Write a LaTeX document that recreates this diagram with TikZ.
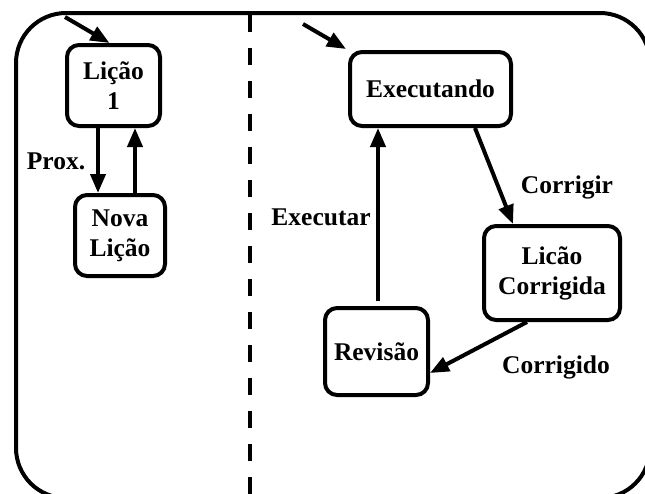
\documentclass[tikz,border=0pt]{standalone}
\usepackage{fontspec}
\setmainfont{Liberation Serif}
\usetikzlibrary{arrows.meta}
\tikzset{
  state/.style={draw, line width=4pt, rounded corners=12pt, align=center,
    inner sep=0pt, font=\fontsize{25.5}{30}\selectfont\bfseries},
  lbl/.style={inner sep=0pt, font=\fontsize{25.5}{30}\selectfont\bfseries},
  arr/.style={line width=4pt, -{Triangle[length=19pt,width=15pt]}},
}
\begin{document}
\begin{tikzpicture}[x=1pt,y=-1pt]
\useasboundingbox (0,0) rectangle (645,493);
% outer frame and separator
\draw[line width=4pt, rounded corners=50pt] (16,13) rectangle (650,498);
\draw[line width=4pt, dash pattern=on 17pt off 16pt] (250,15) -- (250,495);

% left part
\node[state, minimum width=93pt, minimum height=81pt] (lic1) at (113.5,85.5) {Lição\\1};
\node[state, minimum width=90pt, minimum height=81pt] (nova) at (120,235.5) {Nova\\Lição};
\coordinate (s1) at (65,17);
\draw[arr] (s1) -- ([xshift=-4pt]lic1.north);
\coordinate (d1) at ([xshift=-15.5pt]lic1.south);
\draw[arr] (d1) -- (d1 |- nova.north);
\coordinate (u1) at ([xshift=15pt]nova.north);
\draw[arr] (u1) -- (u1 |- lic1.south);
\node[lbl] (prox) at (56,161) {Prox.};

% right part
\node[state, minimum width=161pt, minimum height=74pt] (exe) at (430.5,89) {Executando};
\node[state, minimum width=136pt, minimum height=94pt] (corr) at (552,273) {Licão\\Corrigida};
\node[state, minimum width=103pt, minimum height=87pt] (rev) at (376.5,351.5) {Revisão};
\coordinate (s2) at (303,24);
\draw[arr] (s2) -- ([xshift=-2pt,yshift=1pt]exe.north west);
\draw[arr] ([xshift=44.5pt]exe.south) -- ([xshift=-39pt]corr.north);
\draw[arr] ([xshift=-25pt]corr.south) -- ([yshift=-21.5pt]rev.east);
\coordinate (e1) at ([xshift=1.5pt]rev.north);
\draw[arr, shorten <=5pt] (e1) -- (e1 |- exe.south);
\node[lbl] (lexe) at (321,217) {Executar};
\node[lbl] (lcor) at (567,187) {Corrigir};
\node[lbl] (lcdo) at (556,367) {Corrigido};
\end{tikzpicture}
\end{document}
